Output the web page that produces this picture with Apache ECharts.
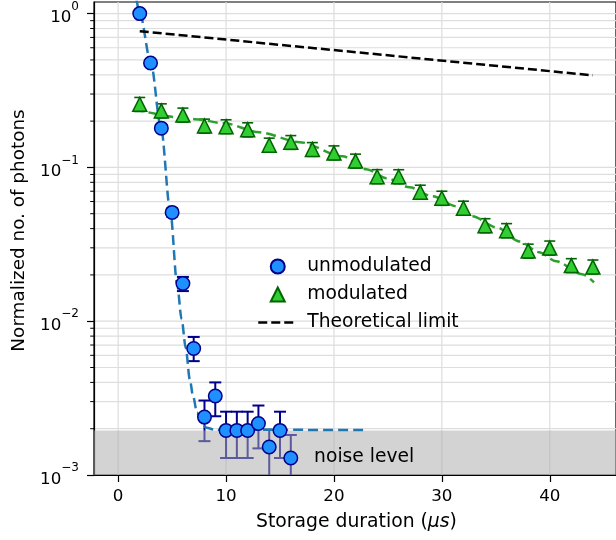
<!DOCTYPE html>
<html><head><meta charset="utf-8">
<script src="https://cdn.jsdelivr.net/npm/echarts@6/dist/echarts.min.js"></script>
<style>html,body{margin:0;padding:0;background:#fff}#c{width:616px;height:540px}</style>
</head><body><div id="c"></div>
<script>
// ---- data ----
const unmodX    = [2, 3, 4, 5, 6, 7, 8, 9, 10, 11, 12, 13, 14, 15, 16];
const unmodY    = [1.0, 0.477, 0.18, 0.051, 0.0176, 0.00665, 0.00238, 0.00326, 0.00195, 0.00195, 0.00195, 0.00216, 0.00152, 0.00195, 0.00129];
const unmodLow  = [1.0, 0.46, 0.172, 0.048, 0.0157, 0.0055, 0.00166, 0.00241, 0.00129, 0.00129, 0.00129, 0.00149, 0.0008, 0.00129, 0.0008];
const unmodHigh = [1.0, 0.495, 0.188, 0.054, 0.0194, 0.0079, 0.00305, 0.0040, 0.00258, 0.00258, 0.00258, 0.00283, 0.00197, 0.00258, 0.00182];

const modX    = [2, 4, 6, 8, 10, 12, 14, 16, 18, 20, 22, 24, 26, 28, 30, 32, 34, 36, 38, 40, 42, 44];
const modY    = [0.257, 0.233, 0.219, 0.186, 0.184, 0.176, 0.1396, 0.1455, 0.131, 0.124, 0.110, 0.0871, 0.087, 0.069, 0.063, 0.0543, 0.0418, 0.0388, 0.0286, 0.0299, 0.023, 0.0225];
const modLow  = [0.231, 0.210, 0.197, 0.167, 0.166, 0.158, 0.126, 0.131, 0.118, 0.112, 0.099, 0.0784, 0.0783, 0.0621, 0.0567, 0.0489, 0.0376, 0.0349, 0.0257, 0.0269, 0.0207, 0.0203];
const modHigh = [0.285, 0.259, 0.243, 0.206, 0.204, 0.195, 0.155, 0.161, 0.145, 0.138, 0.122, 0.0967, 0.0966, 0.0766, 0.070, 0.0603, 0.0464, 0.0431, 0.0317, 0.0332, 0.0255, 0.0250];

const fitUnmodX = [1.70, 2.01, 3.03, 3.96, 4.84, 5.46, 5.88, 6.27, 6.64, 6.94, 7.31, 7.72, 8.19, 8.95, 23.1];
const fitUnmodY = [1.24, 1.0, 0.477, 0.183, 0.0513, 0.0176, 0.0103, 0.00665, 0.00418, 0.00326, 0.00254, 0.00219, 0.00203, 0.00197, 0.00196];

const fitModX = [1.45, 7.1, 9.8, 13.1, 16.8, 20.8, 23.0, 24.9, 27.0, 29.1, 31.4, 32.8, 35.1, 37.2, 39.0, 40.6, 43.0, 44.1];
const fitModY = [0.239, 0.206, 0.194, 0.169, 0.146, 0.118, 0.0973, 0.085, 0.0743, 0.0649, 0.0558, 0.0481, 0.0407, 0.0330, 0.0281, 0.0245, 0.0202, 0.0179];

const limitX = [2, 44];
const limitY = [0.769, 0.397];

const noiseLevel = 1.95e-3;
const noiseLabelX = 18.16, noiseLabelY = 1.31e-3;

const xTicks = [0, 10, 20, 30, 40];
const yTicks = [1e-3, 1e-2, 1e-1, 1];
const yMinor = [2e-3,3e-3,4e-3,5e-3,6e-3,7e-3,8e-3,9e-3, 2e-2,3e-2,4e-2,5e-2,6e-2,7e-2,8e-2,9e-2, 2e-1,3e-1,4e-1,5e-1,6e-1,7e-1,8e-1,9e-1];
const xRange = [-2.24, 46.14];
const yRange = [1e-3, 1.19];

// ---- build ----
const L = v => Math.log10(v);
const XMIN = xRange[0], XMAX = xRange[1];
const YMIN = L(yRange[0]), YMAX = L(yRange[1]);
const FONT = 'DejaVu Sans';
const GRIDC = '#dddddd';

const sup = n => {
  const e = Math.round(n);
  return '{b|10}{s|' + (e === 0 ? '0' : '\u2212' + (-e)) + '}';
};

function errRender(color, cap, lw) {
  return function (params, api) {
    const x = api.value(0);
    const lo = api.coord([x, api.value(1)]);
    const hi = api.coord([x, api.value(2)]);
    const st = { stroke: color, lineWidth: lw };
    return { type: 'group', children: [
      { type: 'line', shape: { x1: lo[0], y1: lo[1], x2: hi[0], y2: hi[1] }, style: st },
      { type: 'line', shape: { x1: lo[0] - cap, y1: lo[1], x2: lo[0] + cap, y2: lo[1] }, style: st },
      { type: 'line', shape: { x1: hi[0] - cap, y1: hi[1], x2: hi[0] + cap, y2: hi[1] }, style: st }
    ]};
  };
}

const chart = echarts.init(document.getElementById('c'), null, { renderer: 'canvas' });
chart.setOption({
  animation: false,
  backgroundColor: '#fff',
  textStyle: { fontFamily: FONT },
  grid: { left: 94, right: -2, top: 2, bottom: 65, show: true, borderColor: '#000', borderWidth: 1.2, backgroundColor: 'transparent' },
  legend: {
    orient: 'vertical', left: 252, top: 252, itemWidth: 39, itemHeight: 14, itemGap: 9,
    selectedMode: false, symbolKeepAspect: true,
    data: [
      { name: 'unmodulated', icon: 'circle' },
      { name: 'modulated', icon: 'path://M7,0 L14,14 L0,14 Z' },
      { name: 'Theoretical limit', itemStyle: { color: 'rgba(0,0,0,0)', borderWidth: 0, opacity: 0 } }
    ],
    textStyle: { fontFamily: FONT, fontSize: 18.7, color: '#000', lineHeight: 18, padding: [0, 0, 0, 5] },
    lineStyle: { width: 2.5 }
  },
  xAxis: {
    type: 'value', min: XMIN, max: XMAX,
    axisLine: { show: true, onZero: false, lineStyle: { color: '#000', width: 1.2 } },
    axisTick: { show: true, length: 7, customValues: xTicks, lineStyle: { color: '#000', width: 1.2 } },
    axisLabel: { customValues: xTicks, fontSize: 16.7, color: '#000', fontFamily: FONT, margin: 13 },
    splitLine: { show: false },
    name: '{n|Storage duration (}{i|\u03bcs}{n|)}',
    nameLocation: 'middle', nameGap: 38,
    nameTextStyle: { padding: [0, 0, 0, 3], rich: {
      n: { fontSize: 18.8, fontFamily: FONT, color: '#000' },
      i: { fontSize: 18.8, fontFamily: FONT, fontStyle: 'italic', color: '#000' }
    } }
  },
  yAxis: {
    type: 'value', min: YMIN, max: YMAX,
    axisLine: { show: true, onZero: false, lineStyle: { color: '#000', width: 1.2 } },
    axisTick: { show: true, length: 7, customValues: yTicks.map(L), lineStyle: { color: '#000', width: 1.2 } },
    axisLabel: {
      customValues: yTicks.map(L), margin: 15, color: '#000',
      formatter: v => sup(v),
      rich: {
        b: { fontSize: 16.7, fontFamily: FONT, color: '#000', lineHeight: 26, verticalAlign: 'bottom' },
        s: { fontSize: 12, fontFamily: FONT, color: '#000', lineHeight: 13, verticalAlign: 'top' }
      }
    },
    splitLine: { show: false },
    name: 'Normalized no. of photons', nameLocation: 'middle', nameGap: 66,
    nameTextStyle: { fontSize: 18.4, fontFamily: FONT, color: '#000', padding: [0, 0, 0, 16] }
  },
  series: [
    { // horizontal grid lines
      type: 'custom', silent: true, z: 0, clip: true,
      data: yMinor.concat(yTicks.slice(1)).map(v => [XMIN, L(v)]),
      renderItem: (p, api) => {
        const a = api.coord([XMIN, api.value(1)]), b = api.coord([XMAX, api.value(1)]);
        return { type: 'line', shape: { x1: a[0], y1: a[1], x2: b[0], y2: b[1] }, style: { stroke: GRIDC, lineWidth: 1.2 } };
      }
    },
    { // vertical grid lines
      type: 'custom', silent: true, z: 0, clip: true,
      data: xTicks.map(v => [v, YMIN]),
      renderItem: (p, api) => {
        const a = api.coord([api.value(0), YMIN]), b = api.coord([api.value(0), YMAX]);
        return { type: 'line', shape: { x1: a[0], y1: a[1], x2: b[0], y2: b[1] }, style: { stroke: GRIDC, lineWidth: 1.2 } };
      }
    },
    { // y minor ticks
      type: 'custom', silent: true, z: 5, clip: false,
      data: yMinor.map(v => [XMIN, L(v)]),
      renderItem: (p, api) => {
        const a = api.coord([XMIN, api.value(1)]);
        return { type: 'line', shape: { x1: a[0] - 3.8, y1: a[1], x2: a[0], y2: a[1] }, style: { stroke: '#000', lineWidth: 1 } };
      }
    },
    { // unmodulated error bars
      type: 'custom', silent: true, z: 1, clip: true,
      data: unmodX.map((x, i) => [x, L(unmodLow[i]), L(unmodHigh[i])]),
      renderItem: errRender('#00008b', 6, 2)
    },
    { // modulated error bars
      type: 'custom', silent: true, z: 1, clip: true,
      data: modX.map((x, i) => [x, L(modLow[i]), L(modHigh[i])]),
      renderItem: errRender('#006400', 5.5, 1.6)
    },
    { // noise band
      type: 'custom', silent: true, z: 2, clip: true,
      data: [[XMIN, YMIN, XMAX, L(noiseLevel)]],
      renderItem: (p, api) => {
        const a = api.coord([api.value(0), api.value(1)]), b = api.coord([api.value(2), api.value(3)]);
        return { type: 'rect', shape: { x: a[0], y: b[1], width: b[0] - a[0], height: a[1] - b[1] }, style: { fill: 'rgba(171,171,171,0.525)' } };
      }
    },
    { // noise level label
      type: 'custom', silent: true, z: 6, clip: false,
      data: [[noiseLabelX, L(noiseLabelY)]],
      renderItem: (p, api) => {
        const a = api.coord([api.value(0), api.value(1)]);
        return { type: 'text', x: a[0], y: a[1], style: { text: 'noise level', fontSize: 18.7, fontFamily: FONT, fill: '#000', align: 'left', verticalAlign: 'middle' } };
      }
    },
    {
      name: 'unmod fit', type: 'line', z: 3, showSymbol: false, symbol: 'none', silent: true,
      smooth: 0.3, smoothMonotone: 'x',
      data: fitUnmodX.map((x, i) => [x, L(fitUnmodY[i])]),
      lineStyle: { color: '#1f77b4', width: 2.5, type: [10, 5] }
    },
    {
      name: 'mod fit', type: 'line', z: 3, showSymbol: false, symbol: 'none', silent: true,
      smooth: 0.3, smoothMonotone: 'x',
      data: fitModX.map((x, i) => [x, L(fitModY[i])]),
      lineStyle: { color: '#2ca02c', width: 2.5, type: [10, 5] }
    },
    {
      name: 'Theoretical limit', type: 'line', z: 3, showSymbol: false, symbol: 'none', silent: true,
      data: limitX.map((x, i) => [x, L(limitY[i])]),
      itemStyle: { color: '#000' },
      lineStyle: { color: '#000', width: 2.5, type: [9, 4] }
    },
    {
      name: 'unmodulated', type: 'scatter', z: 4, symbol: 'circle', symbolSize: 13.5, silent: true,
      data: unmodX.map((x, i) => [x, L(unmodY[i])]),
      itemStyle: { color: '#1e90ff', borderColor: '#00008b', borderWidth: 1.5, opacity: 1 }
    },
    {
      name: 'modulated', type: 'scatter', z: 4, symbol: 'triangle', symbolSize: 14, silent: true,
      data: modX.map((x, i) => [x, L(modY[i])]),
      itemStyle: { color: '#32cd32', borderColor: '#006400', borderWidth: 1.5, opacity: 1 }
    }
  ]
});
</script></body></html>
